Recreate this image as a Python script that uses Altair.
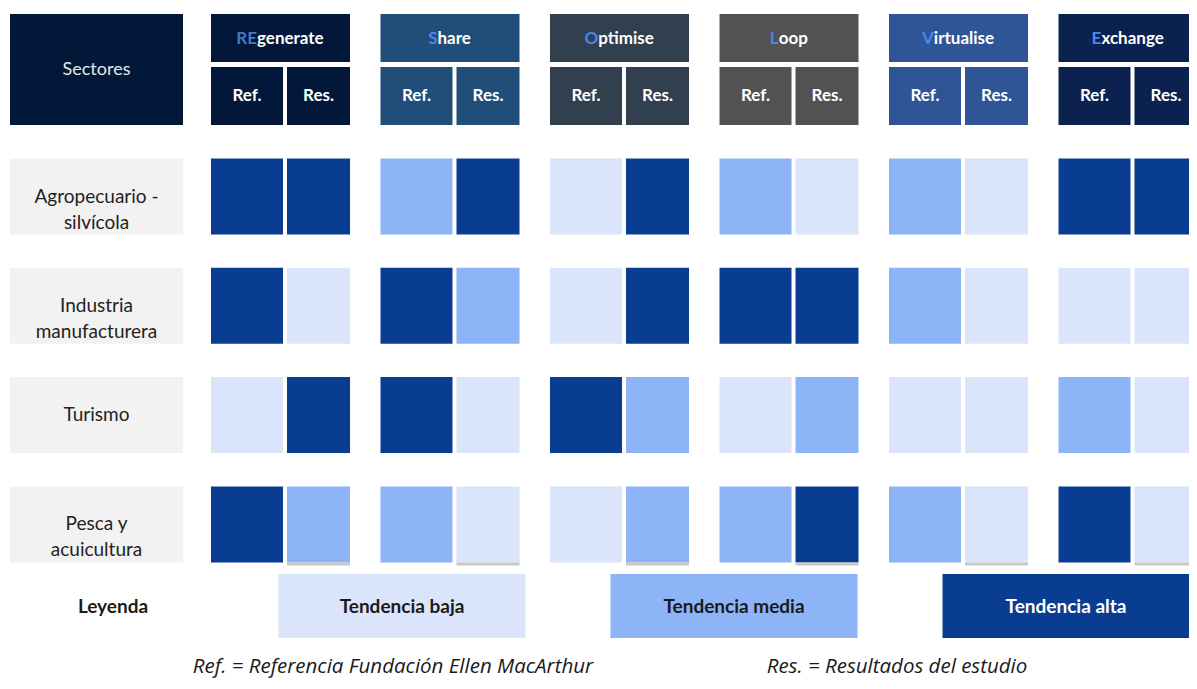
import altair as alt
import pandas as pd

# ---------------- data ----------------
sectors = ["Agropecuario -\nsilvícola", "Industria\nmanufacturera", "Turismo", "Pesca y\nacuicultura"]
strategies = ["REgenerate", "Share", "Optimise", "Loop", "Virtualise", "Exchange"]
highlight = ["RE", "S", "O", "L", "V", "E"]
sub_labels = ["Ref.", "Res."]
levels = ["Tendencia baja", "Tendencia media", "Tendencia alta"]

# 1 = baja, 2 = media, 3 = alta ; order: RE Ref, RE Res, Share Ref, Share Res, ...
agropecuario = [3, 3, 2, 3, 1, 3, 2, 1, 2, 1, 3, 3]
industria = [3, 1, 3, 2, 1, 3, 3, 3, 2, 1, 1, 1]
turismo = [1, 3, 3, 1, 3, 2, 1, 2, 1, 1, 2, 1]
pesca = [3, 2, 2, 1, 1, 2, 2, 3, 2, 1, 3, 1]
values = [agropecuario, industria, turismo, pesca]

header_title = "Sectores"
legend_title = "Leyenda"
footnotes = ["Ref. = Referencia Fundación Ellen MacArthur", "Res. = Resultados del estudio"]

# ---------------- style ----------------
header_colors = ["#021739", "#214E78", "#323F4F", "#525252", "#2F5597", "#0B2150"]
prefix_colors = ["#3C7CC4", "#4A86E8", "#4A86E8", "#4A86E8", "#4A86E8", "#4A86E8"]
level_colors = ["#DAE5FB", "#8EB4F8", "#083D91"]
FONT = "Lato"

# layout constants (screen pixels)
GX0, GSTEP, REFW, RESW, SGAP = 211, 169.5, 72, 63, 4
GW = REFW + RESW + SGAP
ROW0, RSTEP, RH = 158.5, 109.3, 76
LX0, LX1 = 10, 183
LEG_C0, LEG_STEP, LEG_W = 402, 332, 247

# approximate Lato Bold advance widths (em) for centring two-colour titles
W = {"R": .62, "E": .55, "S": .52, "O": .76, "L": .49, "V": .66,
     "a": .51, "c": .46, "e": .53, "g": .52, "h": .57, "i": .26, "l": .26, "m": .86,
     "n": .57, "o": .57, "p": .56, "r": .38, "s": .43, "t": .36, "u": .57, "x": .52}
TS = 17
def tw(s):
    return sum(W.get(ch, .55) for ch in s) * TS

# ---------------- tables ----------------
cells = pd.DataFrame([
    {"r": r, "g": g, "s": s, "level": levels[values[r][2 * g + s] - 1]}
    for r in range(len(sectors)) for g in range(len(strategies)) for s in range(2)
])
groups = pd.DataFrame([
    {"g": g, "strategy": st, "pre": highlight[g], "suf": st[len(highlight[g]):],
     "shift": (tw(highlight[g]) - tw(st[len(highlight[g]):])) / 2}
    for g, st in enumerate(strategies)
])
subs = pd.DataFrame([
    {"g": g, "s": s, "strategy": strategies[g], "label": sub_labels[s]}
    for g in range(len(strategies)) for s in range(2)
])
rows = pd.DataFrame({"r": list(range(len(sectors))), "sector": sectors})
legend = pd.DataFrame({"i": list(range(len(levels))), "level": levels})
notes = pd.DataFrame({"i": list(range(len(footnotes))), "note": footnotes})
single = pd.DataFrame({"t": [header_title]})
leg_single = pd.DataFrame({"t": [legend_title]})

XS = alt.Scale(domain=[8, 1189], nice=False, zero=False)
YS = alt.Scale(domain=[8, 681], reverse=True, nice=False, zero=False)
def X(f): return alt.X(f, type="quantitative", scale=XS, axis=None)
def Y(f): return alt.Y(f, type="quantitative", scale=YS, axis=None)

cell_x = f"{GX0} + datum.g * {GSTEP} + datum.s * {REFW + SGAP}"
cell_x2 = f"datum.x + (datum.s == 0 ? {REFW} : {RESW})"

# Sectores header box
sect_box = alt.Chart(single).mark_rect(color="#021838").transform_calculate(
    x=f"{LX0}", x2=f"{LX1}", y="14", y2="125"
).encode(x=X("x"), x2="x2", y=Y("y"), y2="y2")
sect_txt = alt.Chart(single).mark_text(font=FONT, fontSize=18, color="#E6E6E6").transform_calculate(
    x=f"{(LX0 + LX1) / 2}", y="70"
).encode(x=X("x"), y=Y("y"), text="t:N")

# group title boxes
grp_box = alt.Chart(groups).mark_rect(clip=True).transform_calculate(
    x=f"{GX0} + datum.g * {GSTEP}", x2=f"datum.x + {GW}", y="14", y2="62"
).encode(x=X("x"), x2="x2", y=Y("y"), y2="y2",
         color=alt.Color("strategy:N", scale=alt.Scale(domain=strategies, range=header_colors), legend=None))
grp_pre = alt.Chart(groups).mark_text(font=FONT, fontSize=TS, fontWeight="bold", align="right", clip=True).transform_calculate(
    x=f"{GX0} + datum.g * {GSTEP} + {GW / 2} + datum.shift", y="39"
).encode(x=X("x"), y=Y("y"), text="pre:N",
         color=alt.Color("strategy:N", scale=alt.Scale(domain=strategies, range=prefix_colors), legend=None))
grp_suf = alt.Chart(groups).mark_text(font=FONT, fontSize=TS, fontWeight="bold", align="left", color="white", clip=True).transform_calculate(
    x=f"{GX0} + datum.g * {GSTEP} + {GW / 2} + datum.shift", y="39"
).encode(x=X("x"), y=Y("y"), text="suf:N")

# sub-header boxes
sub_box = alt.Chart(subs).mark_rect(clip=True).transform_calculate(
    x=cell_x, x2=cell_x2, y="67", y2="125"
).encode(x=X("x"), x2="x2", y=Y("y"), y2="y2",
         color=alt.Color("strategy:N", scale=alt.Scale(domain=strategies, range=header_colors), legend=None))
sub_txt = alt.Chart(subs).mark_text(font=FONT, fontSize=TS, fontWeight="bold", color="white", clip=True).transform_calculate(
    x=cell_x, x2=cell_x2, xc="(datum.x + datum.x2) / 2", y="96"
).encode(x=X("xc"), y=Y("y"), text="label:N")

# sector label column
row_box = alt.Chart(rows).mark_rect(color="#F2F2F2").transform_calculate(
    x=f"{LX0}", x2=f"{LX1}", y=f"{ROW0} + datum.r * {RSTEP}", y2=f"datum.y + {RH}"
).encode(x=X("x"), x2="x2", y=Y("y"), y2="y2")
row_txt = alt.Chart(rows).mark_text(font=FONT, fontSize=19, color="#222222", lineBreak="\n", lineHeight=26).transform_calculate(
    x=f"{(LX0 + LX1) / 2}", y=f"{ROW0} + datum.r * {RSTEP} + {RH / 2}"
).encode(x=X("x"), y=Y("y"), text="sector:N")

# data cells
cell_rect = alt.Chart(cells).mark_rect(clip=True).transform_calculate(
    x=cell_x, x2=cell_x2, y=f"{ROW0} + datum.r * {RSTEP}", y2=f"datum.y + {RH}"
).encode(x=X("x"), x2="x2", y=Y("y"), y2="y2",
         color=alt.Color("level:N", scale=alt.Scale(domain=levels, range=level_colors), legend=None))
cell_shadow = alt.Chart(cells).mark_rect(clip=True, color="#C8C8C8").transform_filter(
    f"datum.r == {len(sectors) - 1} && datum.s == 1"
).transform_calculate(
    x=cell_x, x2=cell_x2, y=f"{ROW0} + datum.r * {RSTEP} + {RH}", y2="datum.y + 3"
).encode(x=X("x"), x2="x2", y=Y("y"), y2="y2")

# legend
leg_title = alt.Chart(leg_single).mark_text(font=FONT, fontSize=19, fontWeight="bold", color="#1A1A1A").transform_calculate(
    x="113", y="607"
).encode(x=X("x"), y=Y("y"), text="t:N")
leg_box = alt.Chart(legend).mark_rect().transform_calculate(
    x=f"{LEG_C0} + datum.i * {LEG_STEP} - {LEG_W / 2}", x2=f"datum.x + {LEG_W}", y="574", y2="638"
).encode(x=X("x"), x2="x2", y=Y("y"), y2="y2",
         color=alt.Color("level:N", scale=alt.Scale(domain=levels, range=level_colors), legend=None))
leg_txt = alt.Chart(legend).mark_text(font=FONT, fontSize=19, fontWeight="bold").transform_calculate(
    x=f"{LEG_C0} + datum.i * {LEG_STEP}", y="607"
).encode(x=X("x"), y=Y("y"), text="level:N",
         color=alt.condition(f"datum.level == '{levels[2]}'", alt.value("white"), alt.value("#1A1A1A")))

# footnotes
note_txt = alt.Chart(notes).mark_text(font="Open Sans", fontSize=20.5, fontStyle="italic", color="#1A1A1A",
                                      baseline="middle").transform_calculate(
    x="393 + datum.i * 504", y="667"
).encode(x=X("x"), y=Y("y"), text="note:N")

chart = alt.layer(
    sect_box, sect_txt, grp_box, grp_pre, grp_suf, sub_box, sub_txt,
    row_box, row_txt, cell_rect, cell_shadow,
    leg_title, leg_box, leg_txt, note_txt
).resolve_scale(color="independent").properties(
    width=1181, height=673, padding=0,
    autosize=alt.AutoSizeParams(type="none"), background="white"
).configure_view(stroke=None)

chart.save("out.html", embed_options={"renderer": "svg", "actions": False})
